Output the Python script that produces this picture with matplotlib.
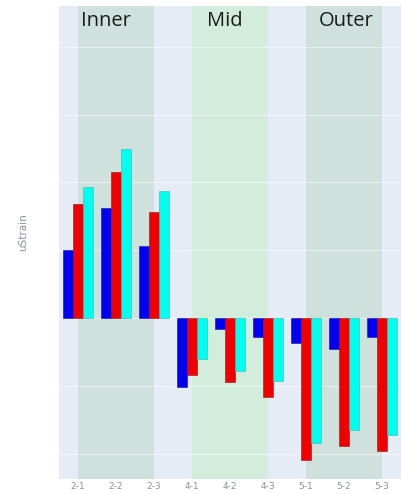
import matplotlib
matplotlib.use("Agg")
import matplotlib.pyplot as plt
import numpy as np

# data (units = one grid step)
sensors = ['2-1', '2-2', '2-3', '4-1', '4-2', '4-3', '5-1', '5-2', '5-3']
blue_vals = [1.00, 1.62, 1.06, -1.01, -0.16, -0.28, -0.37, -0.46, -0.28]
red_vals = [1.68, 2.16, 1.57, -0.84, -0.94, -1.16, -2.09, -1.88, -1.96]
cyan_vals = [1.93, 2.49, 1.88, -0.60, -0.78, -0.93, -1.84, -1.65, -1.72]

zones = ['Inner', 'Mid', 'Outer']
zone_start = [0, 3, 6]
zone_end = [2, 5, 8]
zone_label_x = [0.74, 3.87, 7.05]
zone_colors = ['#cfe1dc', '#d3eddd', '#cfe1dc']

fig = plt.figure(figsize=(4.01, 4.94), dpi=100)
ax = fig.add_axes([59 / 401, 15 / 494, 342 / 401, 473 / 494])
ax.set_facecolor('#e5ecf6')

x = np.arange(len(sensors))
w = 0.257

# shaded zones (from first to last sensor centre)
for s, e, c in zip(zone_start, zone_end, zone_colors):
    ax.axvspan(s, e, color=c, zorder=0, lw=0)

# grid
for gy in range(-2, 5):
    ax.axhline(gy, color='white', lw=0.8, alpha=0.5, zorder=1)

ax.bar(x - w, blue_vals, w, color='#0000ee', edgecolor='#1010a0', lw=0.4, zorder=2)
ax.bar(x, red_vals, w, color='#ee0000', edgecolor='#a01010', lw=0.4, zorder=2)
ax.bar(x + w, cyan_vals, w, color='#00ffee', edgecolor='#20c0b0', lw=0.4, zorder=2)

for name, lx in zip(zones, zone_label_x):
    ax.text(lx, 4.38, name, ha='center', va='center', fontsize=14.5,
            family='Open Sans', color='#1a1a1a', zorder=3)

ax.set_xlim(-0.5, 8.5)
ax.set_ylim(-2.37, 4.6)
ax.set_xticks(x)
ax.set_xticklabels(sensors, fontsize=6.5, color='#8a8f99')
ax.set_yticks([])
ax.tick_params(axis='x', length=0, pad=2)
for sp in ax.spines.values():
    sp.set_visible(False)

fig.text(23 / 401, 1 - 232 / 494, 'uStrain', rotation=90, ha='center', va='center',
         fontsize=7.5, color='#8a8f99')

plt.savefig('out.png', dpi=100)
